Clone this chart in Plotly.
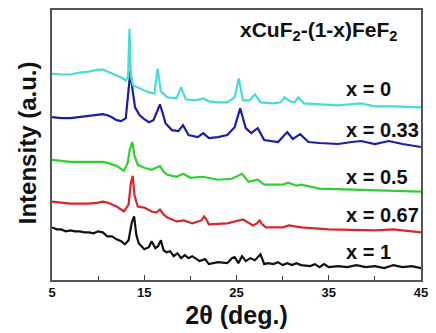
import plotly.graph_objects as go

# 2theta (deg.) and intensity (a.u.)
x_x0 = [5, 6, 7, 8, 9, 10, 10.5, 11, 11.5, 12, 12.5, 13.0, 13.25, 13.4, 13.55, 13.8, 14.5, 15.5, 16.1, 16.45, 16.8, 17.5, 18.5, 19.0, 19.5, 20.5, 21.4, 22, 23, 24, 24.8, 25.25, 25.7, 26.4, 27.0, 27.6, 29, 29.8, 30.2, 30.8, 31.3, 31.7, 32.3, 34, 36, 38.5, 40, 42, 45]
y_x0 = [208, 207, 207, 209, 210, 212, 212, 210, 208, 206, 204, 201, 205, 253, 205, 196, 193, 189, 188, 213, 190, 184, 183, 194, 182, 181, 183, 180, 179, 179, 184, 203, 181, 181, 187, 179, 178, 179, 184, 180, 179, 184, 178, 177, 176, 178, 175, 175, 174]

x_x033 = [5, 6, 7, 8, 9, 10, 10.5, 11, 11.5, 12, 12.5, 13.0, 13.25, 13.5, 13.75, 14, 14.5, 15, 15.5, 16.0, 16.4, 16.7, 17.0, 17.3, 18, 18.7, 19.2, 19.8, 20.8, 21.4, 22, 23, 24, 24.8, 25.4, 26, 26.6, 27.3, 28, 29.5, 30.5, 31.1, 31.9, 32.8, 34, 36, 37.5, 38.5, 40, 41.5, 43, 45]
y_x033 = [164, 163, 163, 164, 165, 166, 167, 166, 164, 161, 160, 163, 185, 211, 190, 174, 166, 162, 159, 161, 170, 177, 168, 158, 151, 150, 156, 146, 144, 148, 143, 144, 146, 154, 173, 153, 148, 153, 141, 139, 149, 142, 147, 139, 138, 137, 139, 140, 137, 140, 137, 134]

x_x05 = [5, 6, 7, 8, 9, 10, 10.5, 11, 12, 12.8, 13.2, 13.45, 13.7, 13.95, 14.3, 15, 15.8, 16.3, 16.7, 17.1, 17.5, 18.5, 19.2, 20, 21.4, 23, 24.5, 25.6, 26.3, 27.3, 28, 30, 30.6, 31.5, 32, 34, 38, 45]
y_x05 = [121, 120, 119, 119, 119, 119, 119, 118, 115, 110, 118, 132, 139, 125, 116, 113, 111, 113, 115, 109, 106, 104, 107, 103, 104, 101, 102, 107, 99, 101, 96, 96, 98, 95, 96, 92, 91, 89]

x_x067 = [5, 6, 7, 8, 9, 10, 10.5, 11, 12, 12.8, 13.3, 13.55, 13.75, 13.95, 14.3, 15, 15.8, 16.3, 16.7, 17.1, 17.5, 18.5, 19.3, 20.2, 21.2, 21.5, 21.8, 22, 24, 25.7, 26.8, 27.2, 27.5, 27.8, 28.2, 30, 30.7, 32, 35, 40, 42, 45]
y_x067 = [79, 78, 77, 77, 77, 78, 79, 78, 74, 69, 76, 98, 105, 85, 74, 73, 69, 68, 71, 66, 63, 59, 60, 57, 60, 64, 60, 56, 57, 61, 55, 57, 60, 56, 53, 53, 55, 53, 51, 50, 51, 48]

x_x1 = [5, 5.5, 6, 6.5, 7, 7.5, 8, 8.5, 9, 9.5, 10, 10.5, 11, 11.5, 12, 12.5, 12.9, 13.3, 13.65, 13.9, 14.15, 14.4, 15, 15.5, 15.8, 16.2, 16.5, 16.8, 17.1, 17.4, 17.8, 18.2, 18.6, 19, 19.4, 19.8, 20.2, 21, 21.6, 22, 23, 24, 24.5, 24.8, 25.2, 25.6, 26, 26.5, 27, 27.6, 28, 28.4, 29, 29.5, 30, 30.5, 31, 31.5, 32, 33, 33.5, 34, 34.5, 35, 36, 37, 38, 39, 40, 41, 42, 43, 44, 45]
y_x1 = [53, 51, 51, 49, 50, 49, 49, 48, 48, 47, 49, 48, 44, 44, 41, 39, 36, 40, 58, 64, 45, 37, 31, 33, 39, 32, 34, 40, 30, 28, 29, 24, 27, 22, 25, 22, 24, 19, 21, 16, 18, 17, 22, 23, 17, 24, 19, 22, 20, 26, 16, 17, 16, 18, 15, 17, 15, 17, 15, 14, 16, 13, 16, 13, 14, 13, 15, 13, 14, 12, 15, 13, 14, 12]

series_labels = ["x = 1", "x = 0.67", "x = 0.5", "x = 0.33", "x = 0"]
label_y = [28, 65, 104, 151, 192]
x_ticks = [5, 15, 25, 35, 45]
x_minor = [10, 20, 30, 40]

xs = [x_x1, x_x067, x_x05, x_x033, x_x0]
ys = [y_x1, y_x067, y_x05, y_x033, y_x0]
colors = ["#111111", "#d9262e", "#2fd12f", "#1c1ca8", "#45dcd6"]

FONT = "Arial, Liberation Sans, sans-serif"

fig = go.Figure()
for x, y, c, n in zip(xs, ys, colors, series_labels):
    fig.add_trace(go.Scatter(x=x, y=y, mode="lines", name=n,
                             line=dict(color=c, width=2.2)))

for lab, ly in zip(series_labels, label_y):
    fig.add_annotation(x=36.6, y=ly, xref="x", yref="y", text="<b>" + lab + "</b>",
                       showarrow=False, xanchor="left", yanchor="middle",
                       font=dict(family=FONT, size=20, color="#111111"))

fig.add_annotation(x=25.2, y=251, xref="x", yref="y",
                   text="<b>xCuF<sub>2</sub>-(1-x)FeF<sub>2</sub></b>",
                   showarrow=False, xanchor="left", yanchor="middle",
                   font=dict(family=FONT, size=21, color="#111111"))

fig.add_annotation(x=-0.068, y=0.51, xref="paper", yref="paper",
                   text="<b>Intensity (a.u.)</b>", textangle=-90,
                   showarrow=False, xanchor="center", yanchor="middle",
                   font=dict(family=FONT, size=24, color="#111111"))

fig.update_layout(
    width=436, height=333,
    margin=dict(l=52, r=8, t=9, b=52),
    paper_bgcolor="white", plot_bgcolor="white",
    showlegend=False,
    xaxis=dict(range=[5, 45], tickvals=x_ticks,
               ticktext=["<b>" + str(v) + "</b>" for v in x_ticks],
               ticks="inside", ticklen=5, tickwidth=1.2, tickcolor="#444",
               minor=dict(tickvals=x_minor, ticks="inside", ticklen=4, tickcolor="#444"),
               showline=True, linecolor="#555", linewidth=1.5, mirror=True,
               showgrid=False, zeroline=False,
               tickfont=dict(family=FONT, size=13, color="#111"),
               title=dict(text="<b>2θ (deg.)</b>", standoff=7,
                          font=dict(family=FONT, size=25, color="#111"))),
    yaxis=dict(range=[0, 272], showticklabels=False, ticks="",
               showline=True, linecolor="#555", linewidth=1.5, mirror=True,
               showgrid=False, zeroline=False),
)

fig.write_html("out.html", config={"displayModeBar": False},
               post_script="document.body.style.margin='0';document.body.style.overflow='hidden';")
